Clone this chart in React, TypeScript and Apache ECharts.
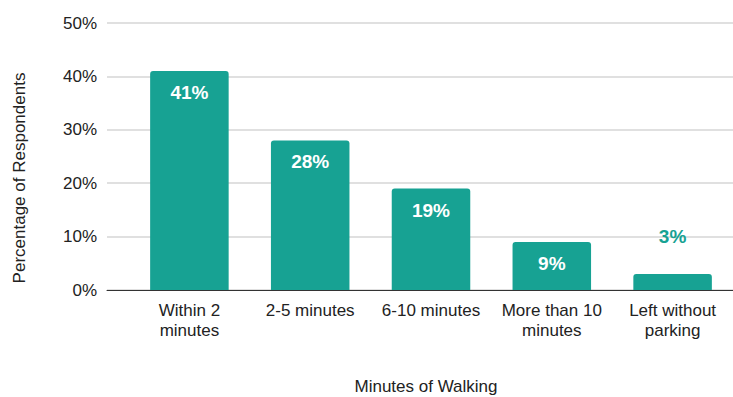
import React, { useEffect, useRef } from "react";
import * as echarts from "echarts";

const categories = [
  "Within 2\nminutes",
  "2-5 minutes",
  "6-10 minutes",
  "More than 10\nminutes",
  "Left without\nparking",
];
const shares = [41, 28, 19, 9, 3];
const yTicks = { min: 0, max: 50, interval: 10 };
const xTitle = "Minutes of Walking";
const yTitle = "Percentage of Respondents";

const TEAL = "#17a293";
const FONT = "'Liberation Sans', Arial, sans-serif";
const TEXT = "#222222";

export default function App() {
  const ref = useRef<HTMLDivElement>(null);

  useEffect(() => {
    document.body.style.margin = "0";
    if (!ref.current) return;
    const chart = echarts.init(ref.current, undefined, { renderer: "svg" });

    // short bars get their label above the bar, in the bar colour
    const barData = shares.map((v) =>
      v < 5
        ? {
            value: v,
            label: { position: "top", distance: 28, color: TEAL },
          }
        : { value: v }
    );

    chart.setOption({
      animation: false,
      backgroundColor: "#ffffff",
      textStyle: { fontFamily: FONT },
      grid: [
        { left: 107, right: 0, top: 23, bottom: 107, outerBoundsMode: "none" },
        { left: 129, right: 0, top: 23, bottom: 107, outerBoundsMode: "none" },
      ],
      xAxis: [
        {
          gridIndex: 0,
          type: "category",
          data: [""],
          axisLine: { show: true, lineStyle: { color: "#333333", width: 1 } },
          axisTick: { show: false },
          axisLabel: { show: false },
          name: xTitle,
          nameLocation: "middle",
          nameGap: 88,
          nameTextStyle: {
            fontFamily: FONT,
            fontSize: 17,
            color: TEXT,
            padding: [0, 0, 0, 12],
          },
        },
        {
          gridIndex: 1,
          type: "category",
          data: categories,
          axisLine: { show: false },
          axisTick: { show: false },
          axisLabel: {
            interval: 0,
            margin: 10,
            fontFamily: FONT,
            fontSize: 17,
            lineHeight: 20,
            color: TEXT,
          },
        },
      ],
      yAxis: [
        {
          gridIndex: 0,
          type: "value",
          min: yTicks.min,
          max: yTicks.max,
          interval: yTicks.interval,
          axisLine: { show: false },
          axisTick: { show: false },
          axisLabel: {
            formatter: "{value}%",
            margin: 10,
            fontFamily: FONT,
            fontSize: 17,
            color: TEXT,
          },
          splitLine: { lineStyle: { color: "#d6d6d6", width: 1.5 } },
        },
        {
          gridIndex: 1,
          type: "value",
          min: yTicks.min,
          max: yTicks.max,
          interval: yTicks.interval,
          show: false,
          splitLine: { show: false },
        },
      ],
      graphic: [
        {
          type: "text",
          x: 19,
          y: 178,
          rotation: Math.PI / 2,
          style: {
            text: yTitle,
            fontFamily: FONT,
            fontSize: 17,
            fill: TEXT,
            align: "center",
            verticalAlign: "middle",
          },
        },
      ],
      series: [
        {
          type: "bar",
          xAxisIndex: 1,
          yAxisIndex: 1,
          data: barData,
          barWidth: "65%",
          itemStyle: { color: TEAL, borderRadius: [3, 3, 0, 0] },
          label: {
            show: true,
            position: "insideTop",
            distance: 12,
            formatter: "{c}%",
            color: "#ffffff",
            fontFamily: FONT,
            fontWeight: "bold",
            fontSize: 19,
          },
        },
      ],
    });

    return () => chart.dispose();
  }, []);

  return <div ref={ref} style={{ width: 733, height: 397 }} />;
}
